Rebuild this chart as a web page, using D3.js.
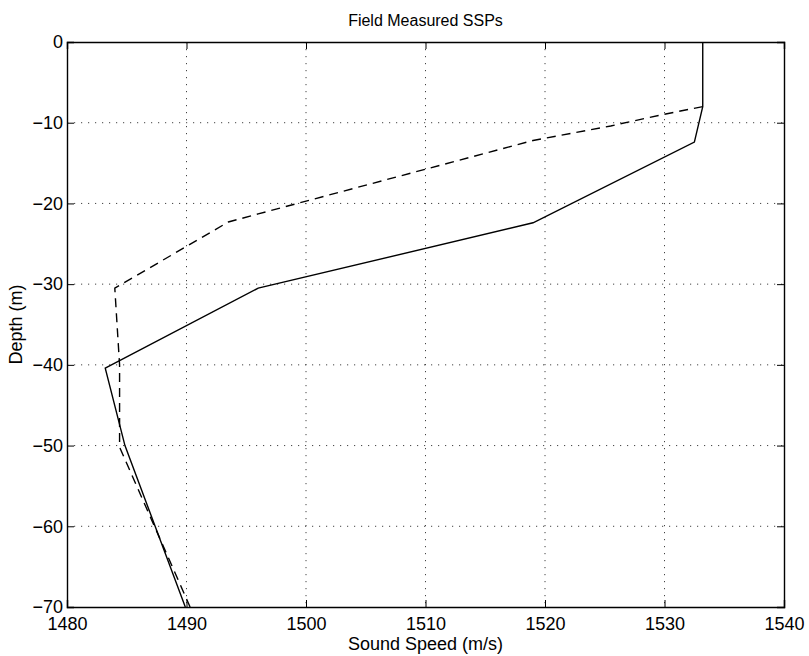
<!DOCTYPE html>
<html>
<head>
<meta charset="utf-8">
<script src="https://cdn.jsdelivr.net/npm/d3@7"></script>
<style>
  body { margin: 0; background: white; }
  text { font-family: "Liberation Sans", Arial, sans-serif; fill: black; }
</style>
</head>
<body>
<div id="chart"></div>
<script>
let w = 809;
let h = 656;
let margin = {top: 42, right: 25, bottom: 49, left: 67};

// sound speed profiles (speed m/s, depth m)
let solidSpeed = [1533.2, 1533.2, 1532.5, 1519.0, 1496.0, 1483.2, 1484.85, 1489.9];
let solidDepth = [0, -8, -12.4, -22.4, -30.5, -40.4, -50, -70];
let dashedSpeed = [1533.2, 1529.5, 1525.5, 1519.0, 1496.0, 1493.5, 1484.0, 1484.4, 1484.4, 1490.3];
let dashedDepth = [-8, -9.1, -10.4, -12.2, -21.3, -22.3, -30.5, -40, -50.2, -70];

let xTicks = [1480, 1490, 1500, 1510, 1520, 1530, 1540];
let yTicks = [0, -10, -20, -30, -40, -50, -60, -70];

let viz = d3.select("#chart")
  .append("svg")
  .attr("width", w)
  .attr("height", h)
  .style("background-color", "white")
;

let xScale = d3.scaleLinear().domain([1480, 1540]).range([margin.left, w - margin.right]);
let yScale = d3.scaleLinear().domain([-70, 0]).range([h - margin.bottom, margin.top]);

let x0 = margin.left, x1 = w - margin.right;
let y0 = margin.top, y1 = h - margin.bottom;

// dotted grid
let grid = viz.append("g").attr("class", "grid");
grid.selectAll(".vgrid").data(xTicks.slice(1, -1)).enter()
  .append("line")
  .attr("x1", d => xScale(d)).attr("x2", d => xScale(d))
  .attr("y1", y0).attr("y2", y1)
  .attr("stroke", "#444").attr("stroke-width", 1)
  .attr("stroke-dasharray", "1.2,5.8")
;
grid.selectAll(".hgrid").data(yTicks.slice(1, -1)).enter()
  .append("line")
  .attr("y1", d => yScale(d)).attr("y2", d => yScale(d))
  .attr("x1", x0).attr("x2", x1)
  .attr("stroke", "#444").attr("stroke-width", 1)
  .attr("stroke-dasharray", "1.2,5.8")
;

// axes, ticks inside like matlab
let xAxis = d3.axisBottom(xScale).tickValues(xTicks).tickSize(-7).tickPadding(10).tickFormat(d3.format("d"));
let xAxisTop = d3.axisTop(xScale).tickValues(xTicks).tickSize(-7).tickFormat("");
let yAxis = d3.axisLeft(yScale).tickValues(yTicks).tickSize(-7).tickPadding(4).tickFormat(d => d < 0 ? "\u2212" + Math.abs(d) : d);
let yAxisRight = d3.axisRight(yScale).tickValues(yTicks).tickSize(-7).tickFormat("");

viz.append("g").attr("transform", "translate(0," + y1 + ")").call(xAxis);
viz.append("g").attr("transform", "translate(0," + y0 + ")").call(xAxisTop);
viz.append("g").attr("transform", "translate(" + x0 + ",0)").call(yAxis);
viz.append("g").attr("transform", "translate(" + x1 + ",0)").call(yAxisRight);

viz.selectAll(".domain").attr("stroke", "black").attr("stroke-width", 1.4);
viz.selectAll(".tick line").attr("stroke", "black").attr("stroke-width", 1);
viz.selectAll(".tick text").style("font-size", "18px").attr("fill", "black");

// profiles
let line = d3.line()
  .x(d => xScale(d[0]))
  .y(d => yScale(d[1]))
;

let solidData = solidSpeed.map((s, i) => [s, solidDepth[i]]);
let dashedData = dashedSpeed.map((s, i) => [s, dashedDepth[i]]);

viz.append("path")
  .datum(solidData)
  .attr("d", line)
  .attr("fill", "none")
  .attr("stroke", "black")
  .attr("stroke-width", 1.4)
;

viz.append("path")
  .datum(dashedData)
  .attr("d", line)
  .attr("fill", "none")
  .attr("stroke", "black")
  .attr("stroke-width", 1.4)
  .attr("stroke-dasharray", "9,6")
;

// labels
viz.append("text")
  .attr("x", (x0 + x1) / 2)
  .attr("y", 26)
  .attr("text-anchor", "middle")
  .style("font-size", "16px")
  .text("Field Measured SSPs")
;

viz.append("text")
  .attr("x", (x0 + x1) / 2)
  .attr("y", 650)
  .attr("text-anchor", "middle")
  .style("font-size", "18px")
  .text("Sound Speed (m/s)")
;

viz.append("text")
  .attr("transform", "translate(22," + ((y0 + y1) / 2) + ") rotate(-90)")
  .attr("text-anchor", "middle")
  .style("font-size", "18px")
  .text("Depth (m)")
;
</script>
</body>
</html>
